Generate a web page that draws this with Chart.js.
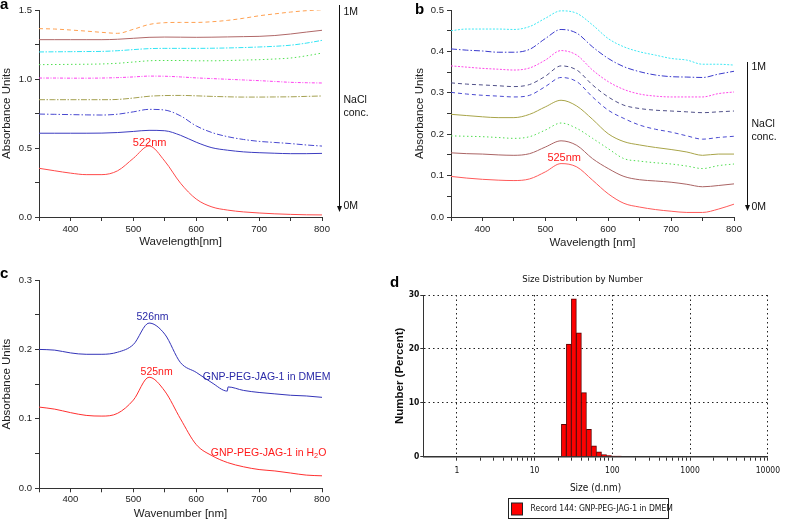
<!DOCTYPE html>
<html>
<head>
<meta charset="utf-8">
<title>GNP-PEG-JAG-1 spectra</title>
<script src="https://cdn.jsdelivr.net/npm/chart.js@4.4.1/dist/chart.umd.min.js"></script>
<style>
    html, body { margin: 0; padding: 0; background: #fff; }
    #figure { position: relative; width: 785px; height: 521px; overflow: hidden; }
    .panel { position: absolute; }
</style>
</head>
<body>
<div id="figure">
    <div class="panel" style="left:0;top:0"><canvas id="chart-a" width="390" height="260"></canvas></div>
    <div class="panel" style="left:390px;top:0"><canvas id="chart-b" width="395" height="260"></canvas></div>
    <div class="panel" style="left:0;top:260px"><canvas id="chart-c" width="390" height="261"></canvas></div>
    <div class="panel" style="left:390px;top:260px"><canvas id="chart-d" width="395" height="261"></canvas></div>
</div>
<script>
// wavelength grid (nm)
const wave = [350, 375, 400, 425, 450, 475, 500, 525, 550, 575, 600, 625, 650, 675, 700, 725, 750, 775, 800];
const xTickValues = [350, 400, 450, 500, 550, 600, 650, 700, 750, 800];
const xLabelValues = [400, 500, 600, 700, 800];

// panel a: NaCl series, 0M (bottom) to 1M (top)
const aRed = [0.353, 0.335, 0.318, 0.307, 0.307, 0.335, 0.425, 0.515, 0.405, 0.245, 0.130, 0.073, 0.050, 0.037, 0.029, 0.023, 0.019, 0.016, 0.015];
const aBlue = [0.607, 0.607, 0.607, 0.607, 0.608, 0.612, 0.620, 0.628, 0.625, 0.592, 0.542, 0.502, 0.484, 0.472, 0.466, 0.462, 0.459, 0.459, 0.461];
const aBlueDashDot = [0.746, 0.744, 0.742, 0.740, 0.739, 0.745, 0.762, 0.780, 0.775, 0.733, 0.660, 0.612, 0.582, 0.562, 0.548, 0.540, 0.532, 0.522, 0.514];
const aOlive = [0.850, 0.850, 0.850, 0.850, 0.850, 0.852, 0.862, 0.875, 0.880, 0.881, 0.878, 0.874, 0.871, 0.869, 0.869, 0.870, 0.871, 0.874, 0.877];
const aMagenta = [1.007, 1.007, 1.006, 1.006, 1.007, 1.010, 1.015, 1.021, 1.020, 1.015, 1.008, 1.003, 0.998, 0.993, 0.988, 0.982, 0.976, 0.973, 0.971];
const aGreen = [1.104, 1.105, 1.106, 1.107, 1.109, 1.114, 1.123, 1.132, 1.134, 1.134, 1.132, 1.132, 1.134, 1.137, 1.140, 1.145, 1.152, 1.168, 1.188];
const aCyan = [1.196, 1.197, 1.198, 1.199, 1.200, 1.205, 1.213, 1.220, 1.222, 1.222, 1.222, 1.223, 1.225, 1.228, 1.232, 1.237, 1.245, 1.260, 1.280];
const aBrown = [1.285, 1.285, 1.285, 1.285, 1.285, 1.288, 1.295, 1.302, 1.304, 1.303, 1.302, 1.303, 1.305, 1.307, 1.309, 1.315, 1.326, 1.340, 1.353];
const aOrange = [1.365, 1.362, 1.355, 1.347, 1.338, 1.331, 1.360, 1.395, 1.408, 1.410, 1.410, 1.415, 1.425, 1.440, 1.458, 1.472, 1.485, 1.495, 1.502];
const aYTicks = [0, 0.25, 0.5, 0.75, 1, 1.25, 1.5];
const aYLabels = [0, 0.5, 1, 1.5];

// panel b
const bRed = [0.098, 0.094, 0.091, 0.089, 0.088, 0.092, 0.109, 0.129, 0.121, 0.089, 0.056, 0.033, 0.024, 0.018, 0.014, 0.011, 0.011, 0.019, 0.031];
const bBrown = [0.155, 0.153, 0.152, 0.150, 0.149, 0.153, 0.169, 0.184, 0.173, 0.141, 0.117, 0.098, 0.090, 0.087, 0.084, 0.079, 0.073, 0.076, 0.080];
const bGreen = [0.196, 0.195, 0.194, 0.192, 0.190, 0.194, 0.210, 0.227, 0.214, 0.190, 0.165, 0.141, 0.135, 0.131, 0.128, 0.123, 0.117, 0.124, 0.128];
const bOlive = [0.248, 0.245, 0.242, 0.240, 0.240, 0.248, 0.266, 0.282, 0.268, 0.236, 0.201, 0.182, 0.174, 0.168, 0.163, 0.157, 0.149, 0.152, 0.152];
const bBlueDash = [0.301, 0.297, 0.294, 0.292, 0.290, 0.294, 0.315, 0.337, 0.327, 0.290, 0.258, 0.238, 0.222, 0.212, 0.205, 0.196, 0.188, 0.192, 0.195];
const bGrayDash = [0.324, 0.321, 0.319, 0.317, 0.315, 0.320, 0.340, 0.365, 0.355, 0.319, 0.290, 0.270, 0.262, 0.258, 0.256, 0.254, 0.252, 0.254, 0.256];
const bMagenta = [0.365, 0.362, 0.359, 0.357, 0.355, 0.360, 0.379, 0.402, 0.391, 0.355, 0.327, 0.308, 0.297, 0.292, 0.290, 0.290, 0.290, 0.298, 0.302];
const bBlueDashDot = [0.406, 0.403, 0.401, 0.398, 0.398, 0.405, 0.431, 0.453, 0.444, 0.411, 0.383, 0.363, 0.351, 0.343, 0.339, 0.338, 0.337, 0.345, 0.352];
const bCyan = [0.450, 0.454, 0.454, 0.454, 0.453, 0.460, 0.480, 0.498, 0.492, 0.464, 0.431, 0.411, 0.399, 0.391, 0.383, 0.379, 0.369, 0.369, 0.367];
const bYTicks = [0, 0.05, 0.1, 0.15, 0.2, 0.25, 0.3, 0.35, 0.4, 0.45, 0.5];
const bYLabels = [0, 0.1, 0.2, 0.3, 0.4, 0.5];

// panel c
const cRed = [0.117, 0.114, 0.109, 0.105, 0.104, 0.108, 0.127, 0.160, 0.140, 0.100, 0.063, 0.047, 0.037, 0.031, 0.027, 0.025, 0.022, 0.019, 0.018];
const cBlueWave = [350, 375, 400, 425, 450, 475, 500, 525, 550, 575, 600, 625, 649.5, 650.5, 675, 700, 725, 750, 775, 800];
const cBlue = [0.200, 0.199, 0.195, 0.193, 0.193, 0.196, 0.207, 0.238, 0.222, 0.181, 0.167, 0.152, 0.140, 0.146, 0.141, 0.138, 0.136, 0.134, 0.133, 0.131];
const cYTicks = [0, 0.05, 0.1, 0.15, 0.2, 0.25, 0.3];
const cYLabels = [0, 0.1, 0.2, 0.3];

// panel d: size distribution by number
const dSizes = [23.8, 27.6, 32.0, 37.1, 43.1, 50.0, 58.0, 67.3, 78.1, 90.6, 105.1, 121.9];
const dPercent = [6.0, 20.9, 29.3, 23.0, 11.9, 5.1, 2.0, 0.9, 0.4, 0.2, 0.1, 0.1];
const dMajorTicks = [1, 10, 100, 1000, 10000];
const dYTicks = [0, 10, 20, 30];
const dLegend = 'Record 144: GNP-PEG-JAG-1 in DMEM';

const SANS = '"Liberation Sans", Arial, Helvetica, sans-serif';
const NARROW = '"Liberation Sans Narrow", "Arial Narrow", "DejaVu Sans Condensed", sans-serif';

Chart.defaults.font.family = SANS;
Chart.defaults.color = '#222';

function tickList(values) {
    return values.map(v => ({ value: v }));
}

// text, arrows, panel letters, custom legend
const notesPlugin = {
    id: 'notes',
    afterDraw(chart, args, opts) {
        const { ctx, chartArea } = chart;
        const xs = chart.scales.x;
        const ys = chart.scales.y;
        ctx.save();

        if (opts.letter) {
            ctx.font = 'bold 15px ' + SANS;
            ctx.fillStyle = '#000';
            ctx.textAlign = 'left';
            ctx.textBaseline = 'alphabetic';
            ctx.fillText(opts.letter.text, opts.letter.x, opts.letter.y);
        }

        (opts.labels || []).forEach(l => {
            const parts = l.parts || [{ t: l.text }];
            const fontFor = p => (p.sub ? l.size * 0.7 : l.size) + 'px ' + SANS;
            let total = 0;
            parts.forEach(p => { ctx.font = fontFor(p); total += ctx.measureText(p.t).width; });
            let x = xs.getPixelForValue(l.x) - total / 2;
            const y = ys.getPixelForValue(l.y);
            ctx.fillStyle = l.color;
            ctx.textAlign = 'left';
            ctx.textBaseline = 'middle';
            parts.forEach(p => {
                ctx.font = fontFor(p);
                ctx.fillText(p.t, x, p.sub ? y + 3 : y);
                x += ctx.measureText(p.t).width;
            });
        });

        if (opts.arrow) {
            const a = opts.arrow;
            const x = Math.round(chartArea.right + a.dx) + 0.5;
            ctx.strokeStyle = '#111';
            ctx.fillStyle = '#111';
            ctx.lineWidth = 1;
            ctx.beginPath();
            ctx.moveTo(x, a.top);
            ctx.lineTo(x, a.bottom - 4);
            ctx.stroke();
            ctx.beginPath();
            ctx.moveTo(x - 2.5, a.bottom - 6);
            ctx.lineTo(x + 2.5, a.bottom - 6);
            ctx.lineTo(x, a.bottom);
            ctx.closePath();
            ctx.fill();
            ctx.font = '10.5px ' + SANS;
            ctx.textAlign = 'left';
            ctx.textBaseline = 'middle';
            a.labels.forEach(t => ctx.fillText(t.text, x + 4, t.y));
        }

        if (opts.legendBox) {
            const b = opts.legendBox;
            const ds = chart.data.datasets[0];
            const left = Math.round(chart.width / 2 - b.width / 2) + 0.5;
            ctx.strokeStyle = '#222';
            ctx.lineWidth = 1;
            ctx.strokeRect(left, b.top + 0.5, b.width, b.height);
            ctx.fillStyle = ds.backgroundColor;
            ctx.fillRect(left + 3, b.top + 5, 11, 12);
            ctx.strokeRect(left + 3, b.top + 5, 11, 12);
            ctx.fillStyle = '#111';
            ctx.font = '8.5px ' + NARROW;
            ctx.textAlign = 'left';
            ctx.textBaseline = 'middle';
            ctx.fillText(ds.label, left + 22, b.top + b.height / 2 + 1);
        }
        ctx.restore();
    }
};

function lineSet(label, xs, ys, color, dash) {
    return {
        label: label,
        data: xs.map((x, i) => ({ x: x, y: ys[i] })),
        borderColor: color,
        borderWidth: 1,
        borderDash: dash || [],
        pointRadius: 0,
        cubicInterpolationMode: 'monotone',
        fill: false
    };
}

// spectrum axes (panels a, b, c)
function spectrumScales(p) {
    return {
        x: {
            type: 'linear',
            min: 350,
            max: 800,
            afterBuildTicks: s => { s.ticks = tickList(xTickValues); },
            afterFit: s => { s.height = p.xHeight; },
            ticks: {
                autoSkip: false,
                maxRotation: 0,
                padding: p.xPad,
                color: '#222',
                font: { size: 9.5 },
                callback: v => xLabelValues.includes(v) ? String(v) : ''
            },
            grid: { drawOnChartArea: false, tickLength: 4, color: '#333' },
            border: { color: '#333', width: 1 },
            title: {
                display: true,
                text: p.xTitle,
                color: '#222',
                font: { size: 11.5, lineHeight: 1 },
                padding: { top: 0, bottom: p.xTitlePad }
            }
        },
        y: {
            min: 0,
            max: p.yMax,
            afterBuildTicks: s => { s.ticks = tickList(p.yTicks); },
            afterFit: s => { s.width = p.yWidth; },
            ticks: {
                autoSkip: false,
                padding: 3,
                color: '#222',
                font: { size: 9.5 },
                callback: v => p.yLabels.includes(v) ? v.toFixed(1) : ''
            },
            grid: { drawOnChartArea: false, tickLength: 4, color: '#333' },
            border: { color: '#333', width: 1 },
            title: {
                display: true,
                text: 'Absorbance Units',
                color: '#222',
                font: { size: 11.5, lineHeight: 1 },
                padding: { top: p.yTitlePad, bottom: 0 }
            }
        }
    };
}

function baseOptions(padding, scales, notes) {
    return {
        responsive: false,
        animation: false,
        devicePixelRatio: 1,
        layout: { padding: padding },
        scales: scales,
        plugins: {
            legend: { display: false },
            tooltip: { enabled: false },
            notes: notes
        }
    };
}

// panel a
function initChartA() {
    new Chart(document.getElementById('chart-a'), {
        type: 'line',
        data: {
            datasets: [
                lineSet('0M', wave, aRed, '#ff4a4a'),
                lineSet('2', wave, aBlue, '#3c3cc0'),
                lineSet('3', wave, aBlueDashDot, '#4848d0', [6, 2, 1.5, 2]),
                lineSet('4', wave, aOlive, '#a4a050', [6, 1.5, 1.5, 1.5]),
                lineSet('5', wave, aMagenta, '#ff40f0', [3, 1.5, 1, 1.5]),
                lineSet('6', wave, aGreen, '#50e050', [1.5, 2.5]),
                lineSet('7', wave, aCyan, '#30e4f4', [5, 1.5, 1.5, 1.5]),
                lineSet('8', wave, aBrown, '#b06868'),
                lineSet('1M', wave, aOrange, '#ffa050', [4, 3])
            ]
        },
        options: baseOptions(
            { left: 0, top: 10, right: 68, bottom: 7 },
            spectrumScales({ xHeight: 36, xPad: 3, xTitle: 'Wavelength[nm]', xTitlePad: 5, yMax: 1.5, yTicks: aYTicks, yLabels: aYLabels, yWidth: 39, yTitlePad: 1.2 }),
            {
                letter: { text: 'a', x: 0, y: 9 },
                labels: [{ text: '522nm', x: 526, y: 0.54, size: 11, color: '#ff1a1a' }],
                arrow: {
                    dx: 17, top: 5, bottom: 212,
                    labels: [{ text: '1M', y: 12.5 }, { text: 'NaCl', y: 100 }, { text: 'conc.', y: 113 }, { text: '0M', y: 206 }]
                }
            }
        ),
        plugins: [notesPlugin]
    });
}

// panel b
function initChartB() {
    new Chart(document.getElementById('chart-b'), {
        type: 'line',
        data: {
            datasets: [
                lineSet('0M', wave, bRed, '#ff5a5a'),
                lineSet('2', wave, bBrown, '#aa6464'),
                lineSet('3', wave, bGreen, '#50dd50', [1.5, 2.5]),
                lineSet('4', wave, bOlive, '#a8a448'),
                lineSet('5', wave, bBlueDash, '#4a4ad0', [4, 3]),
                lineSet('6', wave, bGrayDash, '#505088', [4, 3]),
                lineSet('7', wave, bMagenta, '#ff48e8', [2, 1.5]),
                lineSet('8', wave, bBlueDashDot, '#3a3acc', [6, 2, 1.5, 2]),
                lineSet('1M', wave, bCyan, '#40e8f4', [2, 1.5])
            ]
        },
        options: baseOptions(
            { left: 0, top: 10, right: 51, bottom: 7 },
            spectrumScales({ xHeight: 36, xPad: 3, xTitle: 'Wavelength [nm]', xTitlePad: 4.2, yMax: 0.5, yTicks: bYTicks, yLabels: bYLabels, yWidth: 61, yTitlePad: 24.2 }),
            {
                letter: { text: 'b', x: 25, y: 14 },
                labels: [{ text: '525nm', x: 530, y: 0.143, size: 11, color: '#ff1a1a' }],
                arrow: {
                    dx: 12.7, top: 62, bottom: 211,
                    labels: [{ text: '1M', y: 67.5 }, { text: 'NaCl', y: 124 }, { text: 'conc.', y: 137.5 }, { text: '0M', y: 207.5 }]
                }
            }
        ),
        plugins: [notesPlugin]
    });
}

// panel c
function initChartC() {
    new Chart(document.getElementById('chart-c'), {
        type: 'line',
        data: {
            datasets: [
                lineSet('GNP-PEG-JAG-1 in H2O', wave, cRed, '#ff3030'),
                lineSet('GNP-PEG-JAG-1 in DMEM', cBlueWave, cBlue, '#3434b8')
            ]
        },
        options: baseOptions(
            { left: 0, top: 20, right: 68, bottom: 0 },
            spectrumScales({ xHeight: 32.7, xPad: 1, xTitle: 'Wavenumber [nm]', xTitlePad: 1.2, yMax: 0.3, yTicks: cYTicks, yLabels: cYLabels, yWidth: 39, yTitlePad: 1.2 }),
            {
                letter: { text: 'c', x: 0, y: 18.3 },
                labels: [
                    { text: '526nm', x: 530.5, y: 0.247, size: 10.5, color: '#2a2aa8' },
                    { text: '525nm', x: 537, y: 0.167, size: 10.5, color: '#ff1a1a' },
                    { text: 'GNP-PEG-JAG-1 in DMEM', x: 712, y: 0.160, size: 10.5, color: '#2a2aa8' },
                    { parts: [{ t: 'GNP-PEG-JAG-1 in H' }, { t: '2', sub: true }, { t: 'O' }], x: 715, y: 0.051, size: 10.5, color: '#ff1a1a' }
                ]
            }
        ),
        plugins: [notesPlugin]
    });
}

// panel d
function initChartD() {
    const minorTicks = [];
    dMajorTicks.forEach((m, i) => {
        minorTicks.push(m);
        if (i < dMajorTicks.length - 1) {
            for (let k = 2; k <= 9; k++) minorTicks.push(m * k);
        }
    });

    new Chart(document.getElementById('chart-d'), {
        type: 'bar',
        data: {
            datasets: [{
                label: dLegend,
                data: dSizes.map((x, i) => ({ x: x, y: dPercent[i] })),
                backgroundColor: '#ff0000',
                borderColor: '#5a0000',
                borderWidth: 1,
                barThickness: 'flex',
                categoryPercentage: 1,
                barPercentage: 1
            }]
        },
        options: {
            responsive: false,
            animation: false,
            devicePixelRatio: 1,
            layout: { padding: { left: 0, top: 0, right: 10, bottom: 27 } },
            scales: {
                x: {
                    type: 'logarithmic',
                    min: 0.37,
                    max: 10000,
                    offset: false,
                    afterBuildTicks: s => { s.ticks = tickList(minorTicks); },
                    afterFit: s => { s.height = 37.3; },
                    ticks: {
                        autoSkip: false,
                        maxRotation: 0,
                        padding: 5,
                        color: '#111',
                        font: { family: NARROW, size: 8.5 },
                        callback: v => dMajorTicks.includes(v) ? String(v) : ''
                    },
                    grid: {
                        offset: false,
                        tickLength: 4,
                        tickColor: '#333',
                        color: c => (c.tick && dMajorTicks.includes(c.tick.value)) ? '#222' : 'rgba(0,0,0,0)'
                    },
                    border: { color: '#333', width: 1.5, dash: [1.5, 3] },
                    title: {
                        display: true,
                        text: 'Size (d.nm)',
                        color: '#111',
                        font: { family: NARROW, size: 10, lineHeight: 1 },
                        padding: { top: 0, bottom: 1 }
                    }
                },
                y: {
                    min: 0,
                    max: 30,
                    afterBuildTicks: s => { s.ticks = tickList(dYTicks); },
                    afterFit: s => { s.width = 33.3; },
                    ticks: {
                        padding: 1,
                        color: '#111',
                        font: { family: NARROW, size: 8.5, weight: 'bold' }
                    },
                    grid: {
                        tickLength: 3,
                        tickColor: '#333',
                        color: c => (c.tick && c.tick.value > 0) ? '#222' : 'rgba(0,0,0,0)'
                    },
                    border: { color: '#333', width: 1, dash: [1.5, 3] },
                    title: {
                        display: true,
                        text: 'Number (Percent)',
                        color: '#111',
                        font: { size: 11.5, weight: 'bold', lineHeight: 1 },
                        padding: { top: 4.2, bottom: 0 }
                    }
                }
            },
            plugins: {
                legend: { display: false },
                tooltip: { enabled: false },
                title: {
                    display: true,
                    text: 'Size Distribution by Number',
                    color: '#111',
                    font: { family: NARROW, size: 9.5, weight: 'normal', lineHeight: 1.2 },
                    padding: { top: 14.3, bottom: 9.3 }
                },
                notes: {
                    letter: { text: 'd', x: 0, y: 26.7 },
                    legendBox: { top: 238, width: 160, height: 20 }
                }
            }
        },
        plugins: [notesPlugin]
    });
}

initChartA();
initChartB();
initChartC();
initChartD();
</script>
</body>
</html>
